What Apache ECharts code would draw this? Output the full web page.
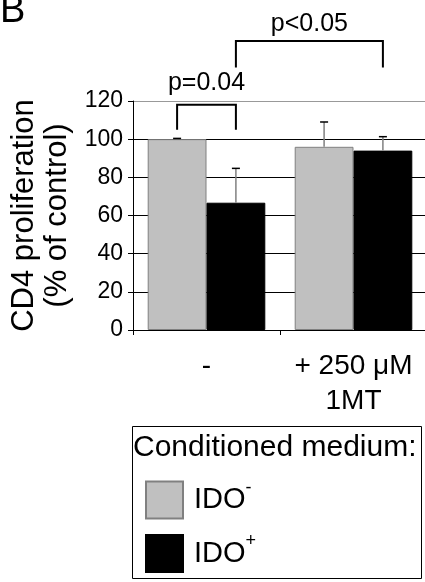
<!DOCTYPE html>
<html>
<head>
<meta charset="utf-8">
<script src="https://cdn.jsdelivr.net/npm/echarts@6/dist/echarts.min.js"></script>
<style>
  html, body { margin: 0; padding: 0; background: #fff; }
  #chart { width: 425px; height: 582px; }
</style>
</head>
<body>
<div id="chart"></div>
<script>
const FONT = '"Liberation Sans", Arial, sans-serif';

// data
const categories = ['-', '+ 250 \u03bcM\n1MT'];
const idoNeg = [100, 96];
const idoNegErr = [0.4, 13];
const idoPos = [66.7, 94];
const idoPosErr = [18, 7.3];
const yTicks = { min: 0, max: 120, step: 20 };

// significance brackets: [cat0, side0, cat1, side1, yLow, yHigh, yText]
const brackets = [
    [0, -1, 0, 1, 105, 118.1, 129.5],
    [0, 1, 1, 1, 137.6, 151.4, 160.4]
];
const bracketLabels = ['p=0.04', 'p<0.05'];

const chart = echarts.init(document.getElementById('chart'));

function errorSeries(name, values, errs, side, stroke) {
    return {
        name: name + '-err',
        type: 'custom',
        clip: false,
        z: 5,
        silent: true,
        data: values.map((v, i) => [i, v, errs[i]]),
        renderItem: function (params, api) {
            const catW = api.size([1, 0])[0];
            const base = api.coord([api.value(0), api.value(1)]);
            const top = api.coord([api.value(0), api.value(1) + api.value(2)]);
            const x = base[0] + side * 0.2 * catW;
            return {
                type: 'group',
                children: [
                    {
                        type: 'line',
                        shape: { x1: x, y1: base[1], x2: x, y2: top[1] },
                        style: { stroke: stroke, lineWidth: 1.5 }
                    },
                    {
                        type: 'line',
                        shape: { x1: x - 4, y1: top[1], x2: x + 4, y2: top[1] },
                        style: { stroke: '#000', lineWidth: 1.5 }
                    }
                ]
            };
        }
    };
}

const option = {
    animation: false,
    backgroundColor: '#fff',
    textStyle: { fontFamily: FONT, color: '#000' },
    grid: {
        left: 133,
        top: 101,
        width: 294,
        height: 229,
        outerBoundsMode: 'none'
    },
    legend: {
        orient: 'vertical',
        left: 145,
        top: 479,
        padding: 0,
        itemWidth: 37,
        itemHeight: 37,
        itemGap: 13,
        icon: 'rect',
        data: ['IDO-', 'IDO+'],
        selectedMode: false,
        textStyle: {
            fontFamily: FONT,
            fontSize: 29,
            color: '#000',
            rich: {
                b: { fontFamily: FONT, fontSize: 29, color: '#000', padding: [0, 0, 0, 6] },
                s: { fontFamily: FONT, fontSize: 18, color: '#000', padding: [0, 0, 24, 0] }
            }
        },
        formatter: function (name) {
            return '{b|IDO}{s|' + (name === 'IDO-' ? '-' : '+') + '}';
        }
    },
    graphic: [
        {
            type: 'text',
            left: 0,
            top: -7,
            style: { text: 'B', font: '38px ' + FONT, fill: '#000' }
        },
        {
            type: 'rect',
            shape: { x: 132.5, y: 426.5, width: 289, height: 152 },
            style: { fill: 'none', stroke: '#000', lineWidth: 1 }
        },
        {
            type: 'text',
            x: 133,
            y: 448,
            style: {
                text: 'Conditioned medium:',
                font: '30px ' + FONT,
                fill: '#000',
                verticalAlign: 'middle'
            }
        }
    ],
    xAxis: {
        type: 'category',
        data: categories,
        axisLine: { lineStyle: { color: '#000', width: 1 } },
        axisTick: { show: true, length: 5, alignWithLabel: false, lineStyle: { color: '#000' } },
        axisLabel: {
            interval: 0,
            margin: 19,
            fontSize: 28,
            lineHeight: 35,
            color: '#000',
            fontFamily: FONT,
            hideOverlap: false
        },
        splitLine: { show: false }
    },
    yAxis: {
        type: 'value',
        min: yTicks.min,
        max: yTicks.max,
        interval: yTicks.step,
        name: 'CD4 proliferation\n(% of control)',
        nameLocation: 'middle',
        nameRotate: 90,
        nameGap: 55,
        nameTextStyle: { fontSize: 31, lineHeight: 33, color: '#000', fontFamily: FONT },
        axisLine: { show: true, lineStyle: { color: '#000', width: 1 } },
        axisTick: { show: true, length: 5, lineStyle: { color: '#000' } },
        axisLabel: { fontSize: 23, margin: 10, color: '#000', fontFamily: FONT },
        splitLine: {
            show: true,
            lineStyle: { color: ['#000', '#000', '#000', '#000', '#000', '#000', '#999'], width: 1 }
        }
    },
    series: [
        {
            name: 'IDO-',
            type: 'bar',
            data: idoNeg,
            barGap: '0%',
            barCategoryGap: '20%',
            itemStyle: { color: '#c0c0c0', borderColor: '#808080', borderWidth: 1 }
        },
        {
            name: 'IDO+',
            type: 'bar',
            data: idoPos,
            barGap: '0%',
            barCategoryGap: '20%',
            itemStyle: { color: '#000', borderColor: '#000', borderWidth: 1 }
        },
        errorSeries('IDO-', idoNeg, idoNegErr, -1, '#808080'),
        errorSeries('IDO+', idoPos, idoPosErr, 1, '#808080'),
        {
            name: 'brackets',
            type: 'custom',
            clip: false,
            silent: true,
            z: 6,
            data: brackets,
            renderItem: function (params, api) {
                const catW = api.size([1, 0])[0];
                const b = brackets[params.dataIndex];
                const x0 = api.coord([b[0], 0])[0] + b[1] * 0.2 * catW;
                const x1 = api.coord([b[2], 0])[0] + b[3] * 0.2 * catW;
                const yLow = api.coord([0, b[4]])[1];
                const yHigh = api.coord([0, b[5]])[1];
                const yText = api.coord([0, b[6]])[1];
                return {
                    type: 'group',
                    children: [
                        {
                            type: 'polyline',
                            shape: { points: [[x0, yLow], [x0, yHigh], [x1, yHigh], [x1, yLow]] },
                            style: { stroke: '#000', lineWidth: 2, fill: 'none' }
                        },
                        {
                            type: 'text',
                            x: (x0 + x1) / 2,
                            y: yText,
                            style: {
                                text: bracketLabels[params.dataIndex],
                                font: '25px ' + FONT,
                                fill: '#000',
                                align: 'center',
                                verticalAlign: 'middle'
                            }
                        }
                    ]
                };
            }
        }
    ]
};

chart.setOption(option);
</script>
</body>
</html>
